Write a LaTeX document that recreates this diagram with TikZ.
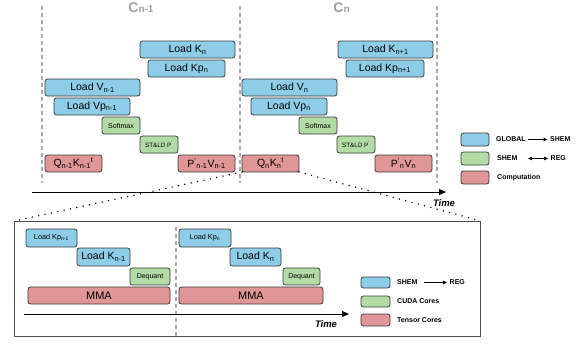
\documentclass[tikz,border=0pt]{standalone}
\usepackage{fontspec}
\setmainfont{Liberation Sans}
\usetikzlibrary{arrows.meta}

\definecolor{gmem}{HTML}{8DCDE8}
\definecolor{smem}{HTML}{B2DBA5}
\definecolor{comp}{HTML}{E09696}
\definecolor{guide}{HTML}{AAAAAA}
\definecolor{cyctext}{HTML}{A0A0A0}
\definecolor{boxline}{HTML}{3A3A3A}

\newcommand\sbs[1]{\textsubscript{#1}}
\newcommand\sps[1]{\textsuperscript{#1}}
\newcommand\fs[1]{\fontsize{#1}{#1}\selectfont}

% a rounded task box spanning (x1,y1)-(x2,y2), y measured downwards
\newcommand\task[7]{%
  \node[taskbox,#6,minimum width={(#4-#2)*1pt},minimum height={(#5-#3)*1pt}]
    (#1) at ({(#2+#4)/2},{-(#3+#5)/2}) {#7};}

\tikzset{
  taskbox/.style={draw=boxline,line width=0.8pt,rounded corners=2.5pt,inner sep=0pt,outer sep=0pt},
  gbox/.style={fill=gmem},
  sbox/.style={fill=smem},
  cbox/.style={fill=comp},
  guideline/.style={draw=guide,line width=1.1pt,dash pattern=on 4pt off 3pt},
  axisline/.style={draw=black,line width=0.9pt,-{Triangle[length=7pt,width=6pt]}},
  zoomline/.style={draw=black,line width=1.6pt,dash pattern=on 0pt off 6.5pt,line cap=round},
  legtext/.style={font=\fs{7}\bfseries,inner sep=1pt,anchor=west},
  legarrow/.style={line width=0.6pt,shorten >=1.5pt},
  legone/.style={-{Triangle[length=4pt,width=3.6pt]}},
  legtwo/.style={{Triangle[length=4pt,width=3.6pt]}-{Triangle[length=4pt,width=3.6pt]}},
  cyclab/.style={text=cyctext,anchor=base,inner sep=0pt,font=\bfseries},
  timelab/.style={font=\fs{9.5}\bfseries\itshape,anchor=base,inner sep=0pt},
}

\begin{document}
\begin{tikzpicture}[x=1pt,y=1pt]
\useasboundingbox (0,0) rectangle (584,-343);

% cycle boundaries
\draw[guideline] (42,-6) -- (42,-183);
\draw[guideline] (240,-6) -- (240,-183);
\draw[guideline] (437,-6) -- (437,-183);
\node[cyclab] (cprev) at (141,-12.5) {\fs{14}C\fs{10}n-1};
\node[cyclab] (ccur) at (341.5,-12.5) {\fs{14}C\fs{10}n};

% cycle n-1
\begin{scope}[font=\fs{10.5}]
\task{kn}{140}{41}{235}{58}{gbox}{Load K\sbs{n}}
\task{kpn}{148}{60}{225}{77}{gbox}{Load Kp\sbs{n}}
\task{vprev}{45}{79}{140}{96}{gbox}{Load V\sbs{n-1}}
\task{vpprev}{54}{98}{130}{115}{gbox}{Load Vp\sbs{n-1}}
\task{qkprev}{45}{155}{102}{172}{cbox}{Q\sbs{n-1}K\sbs{n-1}\sps{t}}
\task{pvprev}{178}{155}{235}{172}{cbox}{P\sps{'}\sbs{n-1}V\sbs{n-1}}
% cycle n
\task{knext}{338}{41}{433}{58}{gbox}{Load K\sbs{n+1}}
\task{kpnext}{346}{60}{424}{77}{gbox}{Load Kp\sbs{n+1}}
\task{vcur}{242}{79}{337}{96}{gbox}{Load V\sbs{n}}
\task{vpcur}{251}{98}{327}{115}{gbox}{Load Vp\sbs{n}}
\task{qkcur}{242}{155}{299}{172}{cbox}{Q\sbs{n}K\sbs{n}\sps{t}}
\task{pvcur}{375}{155}{432}{172}{cbox}{P\sps{'}\sbs{n}V\sbs{n}}
\end{scope}
\begin{scope}[font=\fs{7}]
\task{smprev}{102}{117}{140}{134}{sbox}{Softmax}
\task{smcur}{299}{117}{337}{134}{sbox}{Softmax}
\end{scope}
\begin{scope}[font=\fs{6.3}]
\task{stprev}{140}{136}{178}{153}{sbox}{ST\&LD P\sps{'}}
\task{stcur}{337}{136}{375}{153}{sbox}{ST\&LD P\sps{'}}
\end{scope}

% time axis
\coordinate (tstart) at (32,-192);
\coordinate (tend) at (446,-192);
\draw[axisline] (tstart) -- (tend);
\node[timelab] (tlab) at (444,-206) {Time};

% legend
\task{lgg}{461}{133}{489}{146}{gbox}{}
\task{lgs}{461}{152}{489}{165}{sbox}{}
\task{lgc}{461}{171}{489}{184}{cbox}{}
\node[legtext] (lgga) at (495,-139.5) {GLOBAL};
\node[legtext] (lggb) at (549,-139.5) {SHEM};
\draw[legarrow,legone,shorten <=1pt] (lgga.east) -- (lggb.west);
\node[legtext] (lgsa) at (496,-158.5) {SHEM};
\node[legtext] (lgsb) at (549.5,-158.5) {REG};
\draw[legarrow,legtwo,shorten <=9.5pt] (lgsa.east) -- (lgsb.west);
\node[legtext] (lgct) at (496,-177.5) {Computation};

% zoomed view of one QK^t step
\node[draw=black!70,line width=1pt,minimum width=466pt,minimum height=115pt,inner sep=0pt,anchor=north west] (zoomframe) at (14,-221) {};
\draw[zoomline] (qkcur.south west) -- (zoomframe.north west);
\draw[zoomline] (qkcur.south east) -- (zoomframe.north east);
\draw[guideline] (176,-227) -- (176,-336);

\begin{scope}[font=\fs{7.3}]
\task{kpa}{26}{229}{77}{247}{gbox}{Load Kp\sbs{n-1}}
\task{kpb}{179}{229}{231}{247}{gbox}{Load Kp\sbs{n}}
\end{scope}
\begin{scope}[font=\fs{10.5}]
\task{ka}{77}{248}{130}{266}{gbox}{Load K\sbs{n-1}}
\task{kb}{230}{248}{281}{266}{gbox}{Load K\sbs{n}}
\end{scope}
\begin{scope}[font=\fs{7}]
\task{dqa}{130}{268}{170}{285}{sbox}{Dequant}
\task{dqb}{283}{268}{320}{285}{sbox}{Dequant}
\end{scope}
\begin{scope}[font=\fs{11}]
\task{mmaa}{28}{287}{170}{304}{cbox}{MMA}
\task{mmab}{179}{287}{323}{304}{cbox}{MMA}
\end{scope}

\coordinate (zstart) at (24,-314);
\coordinate (zend) at (349,-314);
\draw[axisline] (zstart) -- (zend);
\node[timelab] (zlab) at (326,-327) {Time};

\task{lzg}{361}{277}{390}{288}{gbox}{}
\task{lzs}{361}{296}{390}{307}{sbox}{}
\task{lzc}{361}{314}{390}{326}{cbox}{}
\node[legtext] (lzga) at (396,-282.5) {SHEM};
\node[legtext] (lzgb) at (448.5,-282.5) {REG};
\draw[legarrow,legone,shorten <=5.8pt] (lzga.east) -- (lzgb.west);
\node[legtext] (lzst) at (396,-301.5) {CUDA Cores};
\node[legtext] (lzct) at (396,-320) {Tensor Cores};
\end{tikzpicture}
\end{document}
